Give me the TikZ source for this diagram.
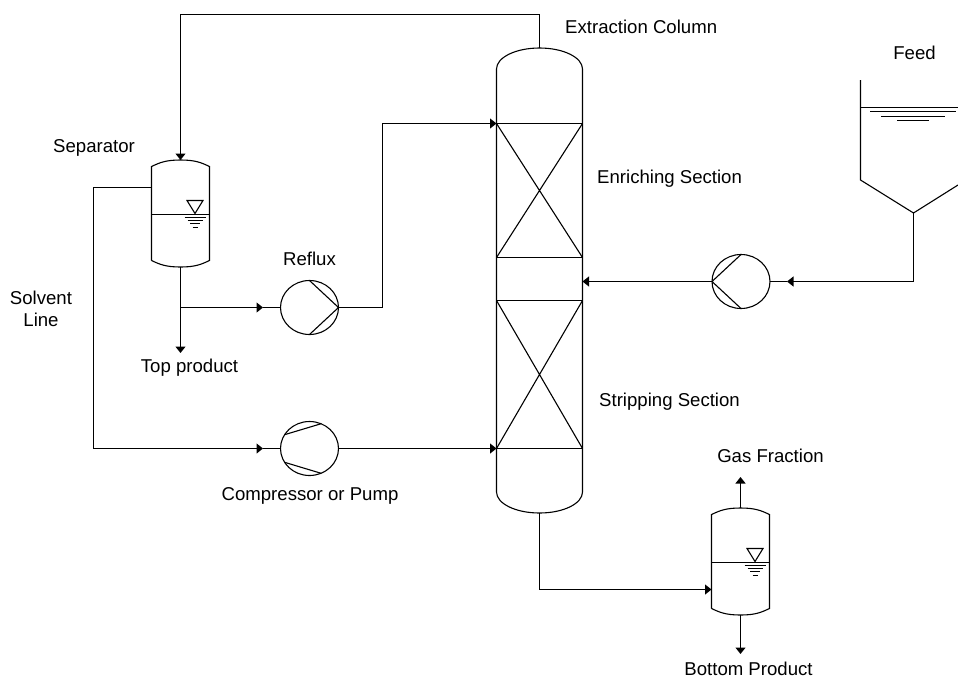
\documentclass[tikz,border=0pt]{standalone}
\usepackage{fontspec}
\setmainfont{Liberation Sans}
\usetikzlibrary{arrows.meta,positioning,calc,shapes.geometric,shapes.misc}
\tikzset{
  pipe/.style={line width=1.1pt, draw=black},
  arrow/.style={
    -{Triangle[length=6.5pt,width=10pt]},
    pipe
  },
  label/.style={
    inner sep=0pt,
    align=center,
    font=\fontsize{18.6}{21.5}\selectfont
  },
  vessel/.style={
    inner sep=0pt,
    outer sep=0pt,
    minimum width=58pt
  },
  packing/.style={
    pipe,
    cross out,
    inner sep=0pt,
    outer sep=0pt,
    minimum width=86pt
  },
  pump/.style={
    pipe,
    ellipse,
    inner sep=0pt,
    outer sep=0pt,
    minimum width=58pt,
    minimum height=54pt
  },
  levelmark/.pic={
    \draw[pipe] (-8,-14) -- (8,-14) -- (0,-1) -- cycle;
    \draw[line width=1pt] (-10.5,3) -- (10.5,3);
    \draw[line width=1pt] (-7.5,6) -- (7.5,6);
    \draw[line width=1pt] (-5,9) -- (5,9);
    \draw[line width=1pt] (-2.5,13) -- (2.5,13);
  }
}
\newcommand{\vesselshell}[5]{
  \draw[pipe] ($(#1.south west)+(0,-#2)$) -- ($(#1.north west)+(0,#2)$)
    to[out=#3,in=180,out distance=#4,in distance=#5] (#1.north)
    to[out=0,in=180-#3,out distance=#5,in distance=#4] ($(#1.north east)+(0,#2)$)
    -- ($(#1.south east)+(0,-#2)$)
    to[out=#3-180,in=0,out distance=#4,in distance=#5] (#1.south)
    to[out=180,in=-#3,out distance=#5,in distance=#4] ($(#1.south west)+(0,-#2)$);
}
\begin{document}
\begin{tikzpicture}[x=1pt,y=-1pt]
\useasboundingbox (0,0) rectangle (958,678);

% column
\node[vessel, minimum width=86pt, minimum height=465pt] (column) at (539.5,280.5) {};
\vesselshell{column}{21}{90}{11.5pt}{24pt}
\node[packing, minimum height=134pt] (enriching) at (539.5,190.5) {};
\draw[pipe] (enriching.north west) rectangle (enriching.south east);
\node[packing, minimum height=148pt] (stripping) at (539.5,374.5) {};
\draw[pipe] (stripping.north west) rectangle (stripping.south east);

% separators
\node[vessel, minimum height=107pt] (separator) at (180.5,213.5) {};
\vesselshell{separator}{6.5}{25}{9pt}{15pt}
\draw[pipe] (separator.west |- 0,214.5) -- (separator.east |- 0,214.5);
\pic at (195,214.5) {levelmark};
\node[vessel, minimum height=107pt] (flash) at (740.5,561.5) {};
\vesselshell{flash}{6.5}{25}{9pt}{15pt}
\draw[pipe] (flash.west |- 0,562.5) -- (flash.east |- 0,562.5);
\pic at (755,562.5) {levelmark};

% pumps
\node[pump] (reflux) at (309.5,307.5) {};
\draw[pipe] (reflux.north) -- (reflux.east) -- (reflux.south);
\node[pump] (compressor) at (309.5,448.5) {};
\draw[pipe] (compressor.151) -- (compressor.65);
\draw[pipe] (compressor.209) -- (compressor.295);
\node[pump] (feedpump) at (741,281.5) {};
\draw[pipe] (feedpump.north) -- (feedpump.west) -- (feedpump.south);

% feed tank
\coordinate (apex) at (913.5,213);
\draw[pipe] (860.5,80) -- (860.5,180) -- (apex) -- (958,185);
\draw[pipe] (860.5,107.5) -- (958,107.5);
\draw[pipe] (870,111.5) -- (956,111.5);
\draw[pipe] (881,116.5) -- (945,116.5);
\draw[pipe] (897,120.5) -- (929,120.5);

% lines
\coordinate (overhead) at (539.5,14.5);
\draw[pipe] (column.north) -- (overhead);
\draw[arrow] (overhead) -| (separator.north);
\coordinate (branch) at (separator.south |- reflux.west);
\coordinate (topout) at (180.5,353);
\draw[arrow] (separator.south) -- (topout);
\coordinate (refluxin) at (263,307.5);
\draw[arrow] (branch) -- (refluxin);
\draw[pipe] (refluxin) -- (reflux.west);
\coordinate (refluxup) at (382.5,307.5);
\draw[pipe] (reflux.east) -- (refluxup);
\draw[arrow] (refluxup) |- (enriching.north west);

\coordinate (solventout) at (151.5,187.5);
\coordinate (solventdown) at (93.5,448.5);
\coordinate (compressorin) at (263,448.5);
\draw[pipe] (solventout) -| (solventdown);
\draw[arrow] (solventdown) -- (compressorin);
\draw[pipe] (compressorin) -- (compressor.west);
\draw[arrow] (compressor.east) -- (stripping.south west);

\coordinate (feedturn) at (913.5,281.5);
\coordinate (feedin) at (787,281.5);
\draw[pipe] (apex) -- (feedturn);
\draw[arrow] (feedturn) -- (feedin);
\draw[pipe] (feedin) -- (feedpump.east);
\draw[arrow] (feedpump.west) -- (feedpump.west -| column.east);

\coordinate (bottomturn) at (539.5,589.5);
\draw[pipe] (column.south) -- (bottomturn);
\draw[arrow] (bottomturn) -- (bottomturn -| flash.west);
\coordinate (gasout) at (740.5,477);
\coordinate (bottomout) at (740.5,654);
\draw[arrow] (flash.north) -- (gasout);
\draw[arrow] (flash.south) -- (bottomout);

% labels
\node[label, anchor=west] (columnlabel) at (565,26.5) {Extraction Column};
\node[label] (feedlabel) at (914.5,53) {Feed};
\node[label, anchor=west] (separatorlabel) at (53,147.5) {Separator};
\node[label, anchor=west] (enrichinglabel) at (597,179) {Enriching Section};
\node[label, anchor=west] (strippinglabel) at (599,402) {Stripping Section};
\node[label, above=15pt of reflux] (refluxlabel) {Reflux};
\node[label] (solventlabel) at (41,309) {Solvent\\Line};
\node[label] (topproduct) at (189.5,368) {Top product};
\node[label] (compressorlabel) at (310,495.5) {Compressor or Pump};
\node[label] (gaslabel) at (770.5,455.5) {Gas Fraction};
\node[label] (bottomproduct) at (748.5,668.5) {Bottom Product};
\end{tikzpicture}
\end{document}
